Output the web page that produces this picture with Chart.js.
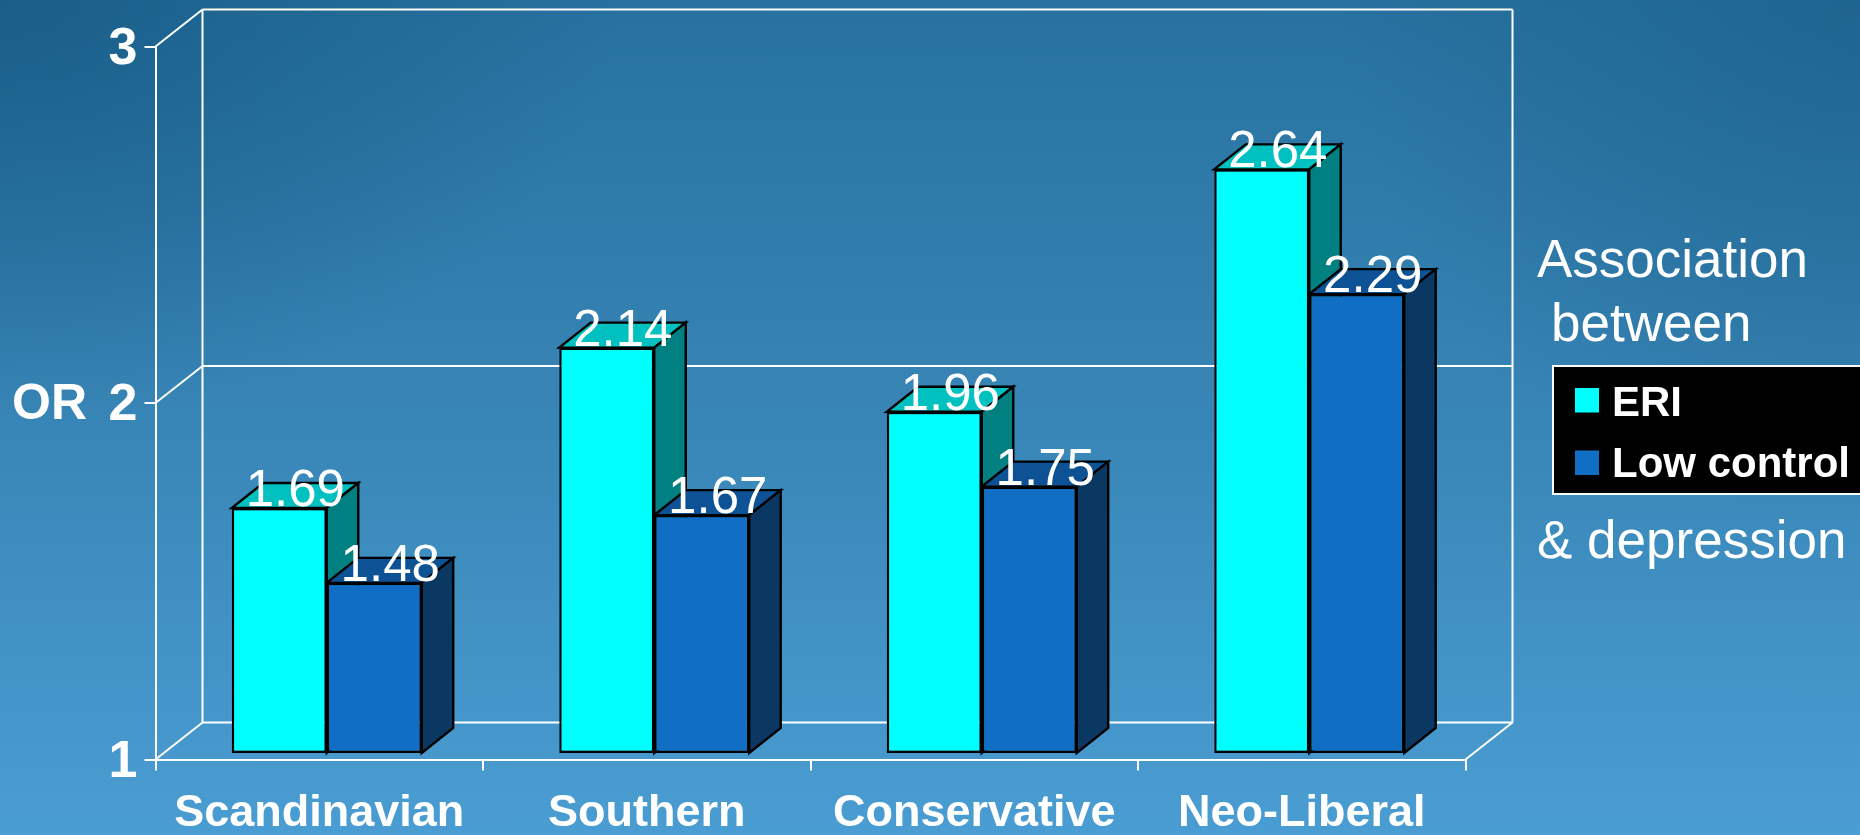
<!DOCTYPE html>
<html>
<head>
<meta charset="utf-8">
<title>Association between ERI, low control and depression</title>
<script src="https://cdn.jsdelivr.net/npm/chart.js@4"></script>
<style>
  html, body { margin: 0; padding: 0; width: 1860px; height: 835px; overflow: hidden; }
  body {
    background:
      radial-gradient(ellipse 620px 420px at 0 0, rgba(22, 88, 130, 0.75), rgba(22, 88, 130, 0) 100%),
      radial-gradient(ellipse 520px 520px at 100% 0, rgba(26, 92, 134, 0.6), rgba(26, 92, 134, 0) 100%),
      linear-gradient(180deg, #26719f 0%, #3683b4 45%, #4a9dd2 100%);
  }
  canvas { display: block; }
</style>
</head>
<body>
<canvas id="grafico" width="1860" height="835"></canvas>
<script>
// === DATOS ===
const categorias = ['Scandinavian', 'Southern', 'Conservative', 'Neo-Liberal'];
const valoresERI = [1.69, 2.14, 1.96, 2.64];
const valoresControl = [1.48, 1.67, 1.75, 2.29];
const nombresSeries = ['ERI', 'Low control'];
const ticksY = [1, 2, 3];
const etiquetaEjeY = 'OR';

// === COLORES ===
const blanco = '#ffffff';
const negro = '#000000';
const coloresERI = { frente: '#00ffff', lado: '#008080', arriba: '#00c0c0' };
const coloresControl = { frente: '#106fc5', lado: '#0a3862', arriba: '#0c5294' };

// === PROFUNDIDAD 3D ===
const pared = { x: 47, y: -37 };
const barraOffset = { x: 7.5, y: -5.5 };
const barraFondo = { x: 31.5, y: -25 };
const grosorBarra = 2.4;

function poligono(ctx, puntos, relleno) {
  ctx.beginPath();
  puntos.forEach((p, i) => i ? ctx.lineTo(p[0], p[1]) : ctx.moveTo(p[0], p[1]));
  ctx.closePath();
  ctx.fillStyle = relleno;
  ctx.fill();
  ctx.strokeStyle = negro;
  ctx.lineWidth = grosorBarra;
  ctx.lineJoin = 'miter';
  ctx.stroke();
}

function linea(ctx, x1, y1, x2, y2) {
  ctx.beginPath();
  ctx.moveTo(x1, y1);
  ctx.lineTo(x2, y2);
  ctx.stroke();
}

// === PAREDES, CARAS 3D Y TEXTOS ===
const plugin3D = {
  id: 'plugin3D',
  beforeDatasetsDraw(chart) {
    const { ctx, scales } = chart;
    const izq = scales.x.left;
    const der = scales.x.right;
    ctx.save();
    ctx.strokeStyle = blanco;
    ctx.lineWidth = 2;
    ticksY.forEach(v => {
      const y = scales.y.getPixelForValue(v);
      linea(ctx, izq, y, izq + pared.x, y + pared.y);
      linea(ctx, izq + pared.x, y + pared.y, der + pared.x, y + pared.y);
    });
    const arriba = scales.y.getPixelForValue(3) + pared.y;
    const abajo = scales.y.getPixelForValue(1) + pared.y;
    linea(ctx, izq + pared.x, arriba, izq + pared.x, abajo);
    linea(ctx, der + pared.x, arriba, der + pared.x, abajo);
    linea(ctx, der, abajo - pared.y, der + pared.x, abajo);

    // caras de arriba y de lado, antes de los frentes
    ctx.translate(barraOffset.x, barraOffset.y);
    chart.data.datasets.forEach((ds, i) => {
      chart.getDatasetMeta(i).data.forEach(b => {
        const l = b.x - b.width / 2;
        const r = b.x + b.width / 2;
        poligono(ctx, [[l, b.y], [r, b.y], [r + barraFondo.x, b.y + barraFondo.y], [l + barraFondo.x, b.y + barraFondo.y]], ds.caras.arriba);
        poligono(ctx, [[r, b.y], [r + barraFondo.x, b.y + barraFondo.y], [r + barraFondo.x, b.base + barraFondo.y], [r, b.base]], ds.caras.lado);
      });
    });
    ctx.restore();
  },
  beforeDatasetDraw(chart) {
    chart.ctx.save();
    chart.ctx.translate(barraOffset.x, barraOffset.y);
  },
  afterDatasetDraw(chart) {
    chart.ctx.restore();
  },
  afterDatasetsDraw(chart) {
    const { ctx, scales } = chart;
    ctx.save();
    ctx.fillStyle = blanco;

    // valores encima de cada barra
    ctx.font = '51px "Liberation Sans"';
    ctx.textAlign = 'center';
    ctx.textBaseline = 'alphabetic';
    chart.data.datasets.forEach((ds, i) => {
      chart.getDatasetMeta(i).data.forEach((b, j) => {
        ctx.fillText(ds.data[j].toFixed(2), b.x + barraOffset.x + 16, b.y + barraOffset.y - 2);
      });
    });

    // etiqueta OR
    ctx.font = 'bold 50px "Liberation Sans"';
    ctx.textAlign = 'left';
    ctx.textBaseline = 'middle';
    ctx.fillText(etiquetaEjeY, 12, scales.y.getPixelForValue(2) + 2);

    // notas de la derecha
    ctx.textBaseline = 'alphabetic';
    ctx.font = '53px "Liberation Sans"';
    ctx.fillText('Association', 1537, 277);
    ctx.fillText('between', 1551, 341);
    ctx.fillText('& depression', 1537, 558);

    // leyenda
    ctx.fillStyle = negro;
    ctx.fillRect(1553, 366, 320, 128);
    ctx.strokeStyle = blanco;
    ctx.lineWidth = 2;
    ctx.strokeRect(1553, 366, 320, 128);
    ctx.font = 'bold 42px "Liberation Sans"';
    [coloresERI.frente, coloresControl.frente].forEach((c, i) => {
      ctx.fillStyle = c;
      ctx.fillRect(1575, 388 + i * 62.5, 24, 24.5);
      ctx.fillStyle = blanco;
      ctx.fillText(nombresSeries[i], 1612, 416 + i * 61);
    });
    ctx.restore();
  }
};

// === GRAFICO ===
new Chart(document.getElementById('grafico'), {
  type: 'bar',
  data: {
    labels: categorias,
    datasets: [
      {
        label: nombresSeries[0],
        data: valoresERI,
        backgroundColor: coloresERI.frente,
        caras: coloresERI,
        borderColor: negro,
        borderWidth: grosorBarra,
        borderSkipped: false,
        base: 1,
        clip: false
      },
      {
        label: nombresSeries[1],
        data: valoresControl,
        backgroundColor: coloresControl.frente,
        caras: coloresControl,
        borderColor: negro,
        borderWidth: grosorBarra,
        borderSkipped: false,
        base: 1,
        clip: false
      }
    ]
  },
  options: {
    responsive: false,
    animation: false,
    devicePixelRatio: 1,
    layout: { padding: { left: 0, top: 46.5, right: 394.5, bottom: 0 } },
    plugins: {
      legend: { display: false },
      tooltip: { enabled: false }
    },
    datasets: { bar: { categoryPercentage: 0.58, barPercentage: 1 } },
    scales: {
      x: {
        afterFit: s => { s.height = 75.5; },
        border: { color: blanco, width: 2 },
        grid: { drawOnChartArea: false, color: blanco, lineWidth: 2, tickLength: 11 },
        ticks: {
          color: blanco,
          font: { family: '"Liberation Sans"', size: 45, weight: 'bold' },
          padding: 16,
          maxRotation: 0,
          autoSkip: false
        }
      },
      y: {
        min: 1,
        max: 3,
        afterFit: s => { s.width = 155.5; },
        border: { color: blanco, width: 2 },
        grid: { drawOnChartArea: false, color: blanco, lineWidth: 2, tickLength: 11 },
        ticks: {
          color: blanco,
          stepSize: 1,
          font: { family: '"Liberation Sans"', size: 52, weight: 'bold' },
          padding: 7,
          labelOffset: 3
        }
      }
    }
  },
  plugins: [plugin3D]
});
</script>
</body>
</html>
